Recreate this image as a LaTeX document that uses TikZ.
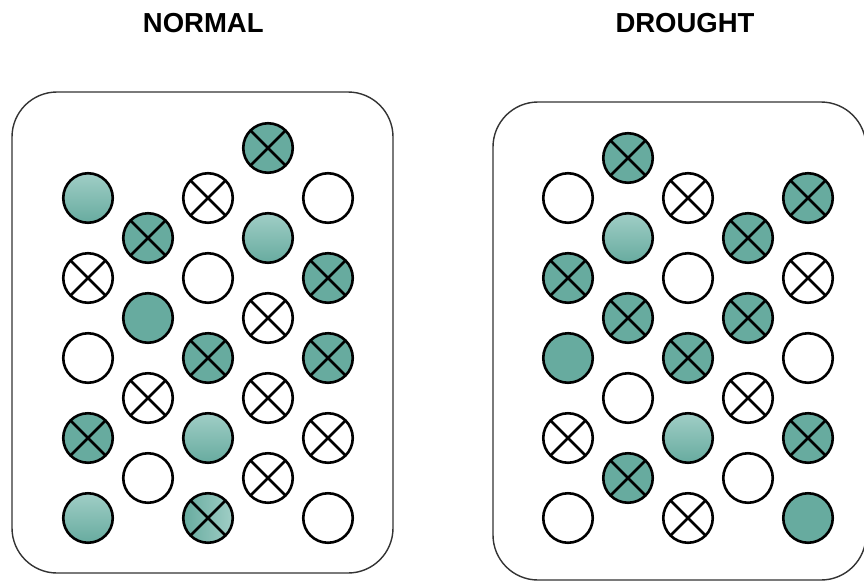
\documentclass[tikz,border=0pt]{standalone}
\usepackage{fontspec}
\setmainfont{Liberation Sans}
\definecolor{teal1}{HTML}{67AB9F}
\definecolor{teal2}{HTML}{A0CEC6}
\tikzset{
  panel/.style={draw=black!80, line width=1.4pt, rounded corners=45pt, inner sep=0pt, fill=white},
  cell/.style={circle, draw=black, line width=2.6pt, minimum size=49.5pt, inner sep=0pt},
  ewhite/.style={cell, fill=white},
  efill/.style={cell, fill=teal1},
  egrad/.style={cell, top color=teal2, bottom color=teal1},
  ehgrad/.style={cell, left color=teal1, right color=teal2},
  xmark/.style={path picture={
     \draw[line width=2.6pt] (path picture bounding box.north west) -- (path picture bounding box.south east)
       (path picture bounding box.north east) -- (path picture bounding box.south west);}},
  title/.style={font=\bfseries\fontsize{27.5}{30}\selectfont, anchor=base}
}
\begin{document}
\begin{tikzpicture}[x=1pt,y=-1pt]
\useasboundingbox (0,0) rectangle (864,581);
\begin{scope}
\clip (0,0) rectangle (864,581);
\node[panel, minimum width=381pt, minimum height=481pt] (normalbox) at (202.5,332.5) {};
\node[panel, minimum width=373pt, minimum height=478pt] (droughtbox) at (679.5,341) {};
\end{scope}
\node[title] (tnormal) at (203.3,32.3) {NORMAL};
\node[title] (tdrought) at (685,32.3) {DROUGHT};
% NORMAL panel
\node[egrad] (a1) at (88,198) {};
\node[ewhite,xmark] (a2) at (88,278) {};
\node[ewhite] (a3) at (88,358) {};
\node[efill,xmark] (a4) at (88,438) {};
\node[egrad] (a5) at (88,518) {};
\node[efill,xmark] (b1) at (148,238) {};
\node[efill] (b2) at (148,318) {};
\node[ewhite,xmark] (b3) at (148,398) {};
\node[ewhite] (b4) at (148,478) {};
\node[ewhite,xmark] (c1) at (208,198) {};
\node[ewhite] (c2) at (208,278) {};
\node[efill,xmark] (c3) at (208,358) {};
\node[egrad] (c4) at (208,438) {};
\node[ehgrad,xmark] (c5) at (208,518) {};
\node[efill,xmark] (d1) at (268,148) {};
\node[egrad] (d2) at (268,238) {};
\node[ewhite,xmark] (d3) at (268,318) {};
\node[ewhite,xmark] (d4) at (268,398) {};
\node[ewhite,xmark] (d5) at (268,478) {};
\node[ewhite] (e1) at (328,198) {};
\node[efill,xmark] (e2) at (328,278) {};
\node[efill,xmark] (e3) at (328,358) {};
\node[ewhite,xmark] (e4) at (328,438) {};
\node[ewhite] (e5) at (328,518) {};
% DROUGHT panel
\node[ewhite] (f1) at (568,198) {};
\node[efill,xmark] (f2) at (568,278) {};
\node[efill] (f3) at (568,358) {};
\node[ewhite,xmark] (f4) at (568,438) {};
\node[ewhite] (f5) at (568,518) {};
\node[efill,xmark] (g1) at (628,158) {};
\node[egrad] (g2) at (628,238) {};
\node[efill,xmark] (g3) at (628,318) {};
\node[ewhite] (g4) at (628,398) {};
\node[efill,xmark] (g5) at (628,478) {};
\node[ewhite,xmark] (h1) at (688,198) {};
\node[ewhite] (h2) at (688,278) {};
\node[efill,xmark] (h3) at (688,358) {};
\node[egrad] (h4) at (688,438) {};
\node[ewhite,xmark] (h5) at (688,518) {};
\node[efill,xmark] (i1) at (748,238) {};
\node[efill,xmark] (i2) at (748,318) {};
\node[ewhite,xmark] (i3) at (748,398) {};
\node[ewhite] (i4) at (748,478) {};
\node[efill,xmark] (j1) at (808,198) {};
\node[ewhite,xmark] (j2) at (808,278) {};
\node[ewhite] (j3) at (808,358) {};
\node[efill,xmark] (j4) at (808,438) {};
\node[efill] (j5) at (808,518) {};
\end{tikzpicture}
\end{document}
